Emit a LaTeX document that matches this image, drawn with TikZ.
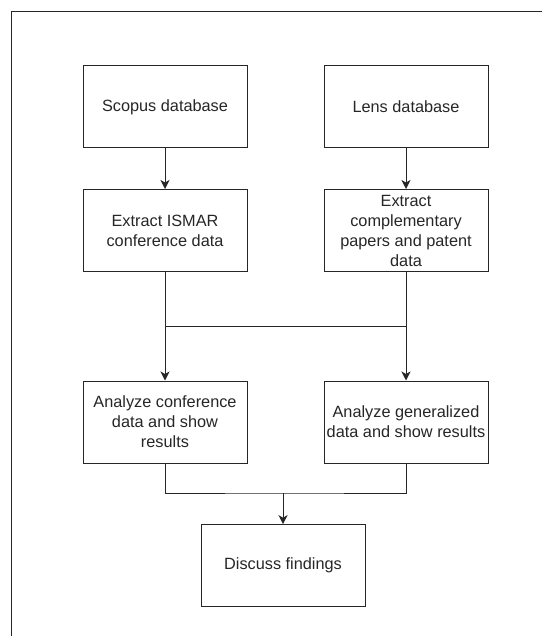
\documentclass[tikz,border=0pt]{standalone}
\usepackage{fontspec}
\setmainfont{Liberation Sans}
\usetikzlibrary{arrows.meta}
\begin{document}
\begin{tikzpicture}[x=1pt,y=-1pt,
  box/.style={draw=black!85, line width=1pt, minimum width=164pt, minimum height=82pt,
    inner sep=0pt, align=center, font=\fontsize{16.3}{20}\selectfont, text=black!85},
  arr/.style={draw=black!85, line width=1pt, -{Stealth[length=9pt,width=9pt,inset=2.5pt]}},
  ln/.style={draw=black!85, line width=1pt}]
\useasboundingbox (0,0) rectangle (542,636);
\draw[ln] (11,636) -- (11,12) -- (542,12);
\node[box] (sco) at (165,107) {Scopus database};
\node[box] (len) at (406,107) {Lens database};
\node[box] (ism) at (165,230.5) {Extract ISMAR\\conference data};
\node[box] (cmp) at (406,230.5) {Extract\\complementary\\papers and patent\\data};
\node[box] (anl) at (165,422) {Analyze conference\\data and show\\results};
\node[box] (anr) at (406,422) {Analyze generalized\\data and show results};
\node[box] (dis) at (283,565.7) {Discuss findings};
\coordinate (jy) at (0,326);
\coordinate (mid) at (283,493);
\draw[arr] (sco.south) -- (ism.north);
\draw[arr] (len.south) -- (cmp.north);
\draw[arr] (ism.south) -- (anl.north);
\draw[arr] (cmp.south) -- (anr.north);
\draw[ln] (ism.south |- jy) -- (cmp.south |- jy);
\draw[ln] (anl.south) |- (mid) -| (anr.south);
\draw[arr] (mid) -- (dis.north);
\end{tikzpicture}
\end{document}
